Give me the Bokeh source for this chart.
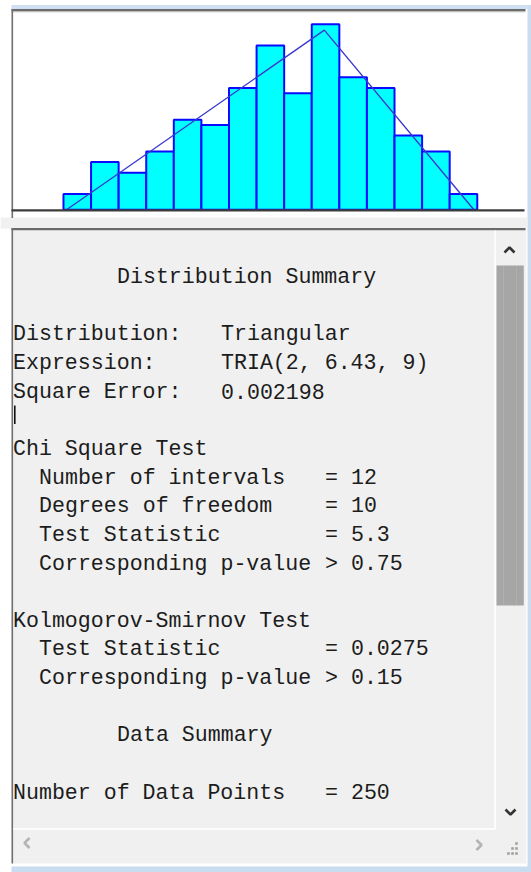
from bokeh.plotting import figure
from bokeh.models import Range1d, ColumnDataSource
from bokeh.core.properties import value
from bokeh.embed import file_html
from bokeh.resources import INLINE

# ---------------- data ----------------
bin_edges = [1.948, 2.422, 2.896, 3.370, 3.844, 4.318, 4.792, 5.266,
             5.740, 6.214, 6.688, 7.162, 7.636, 8.110, 8.584, 9.058]
bin_counts = [3, 9, 7, 11, 17, 16, 23, 31, 22, 35, 25, 23, 14, 11, 3]

tri_x = [2.0, 6.43, 9.0]          # TRIA(2, 6.43, 9)
tri_y = [0.0, 33.9, 0.0]          # fitted curve, expected count per bin

text_rows = [0, 2, 2, 3, 3, 4, 4, 6, 7, 7, 8, 8, 9, 9, 10, 10,
             12, 13, 13, 14, 14, 16, 18, 18]
text_cols = [8, 0, 16, 0, 16, 0, 16, 0, 2, 24, 2, 24, 2, 24, 2, 24,
             0, 2, 24, 2, 24, 8, 0, 24]
text_items = ["Distribution Summary",
              "Distribution:", "Triangular",
              "Expression:", "TRIA(2, 6.43, 9)",
              "Square Error:", "0.002198",
              "Chi Square Test",
              "Number of intervals", "= 12",
              "Degrees of freedom", "= 10",
              "Test Statistic", "= 5.3",
              "Corresponding p-value", "> 0.75",
              "Kolmogorov-Smirnov Test",
              "Test Statistic", "= 0.0275",
              "Corresponding p-value", "> 0.15",
              "Data Summary",
              "Number of Data Points", "= 250"]

# ---------------- layout constants (page pixels) ----------------
W, H = 531, 872
X0, Y0 = 0, 0
HX0, HPX = 66.0, 58.2         # page x of value 2, px per unit
BASE, PPC = 209.3, 5.3        # page y of count 0, px per count
CHAR_W = 13.0
TXT_X0 = 12.5
LINE0, LINE_H = 276.5, 28.65

p = figure(width=W, height=H, x_range=Range1d(X0, X0 + W), y_range=Range1d(Y0 + H, Y0),
           output_backend="svg", toolbar_location=None, min_border=0,
           x_axis_location=None, y_axis_location=None)
p.grid.visible = False
p.outline_line_color = None
p.background_fill_color = "white"
p.border_fill_color = "white"

p.extra_x_ranges = {"hx": Range1d(2 + (X0 - HX0) / HPX, 2 + (X0 + W - HX0) / HPX)}
p.extra_y_ranges = {"hy": Range1d((BASE - (Y0 + H)) / PPC, (BASE - Y0) / PPC)}

def box(l, r, t, b, c):
    p.quad(left=[l], right=[r], top=[t], bottom=[b], fill_color=c, line_color=None)

# ---------- window frame ----------
box(11, 531, 4.5, 8.6, "#cfe0f3")             # top light-blue band
box(527, 531, 4.5, 872, "#cadcf0")            # right light-blue band
box(11, 531, 866, 872, "#cadcf0")             # bottom light-blue band

# ---------- chrome: histogram panel ----------
box(0, 527, 217, 228, "#f0f0f0")              # strip between panels
box(11, 525, 8.6, 10.8, "#6b6b6b")            # top border
box(11, 525, 10.8, 11.8, "#b4b4b4")
box(11, 12.6, 8.6, 217.5, "#707070")          # left border

# ---------- histogram ----------
src = ColumnDataSource(dict(left=bin_edges[:-1], right=bin_edges[1:], top=bin_counts,
                            bottom=[0] * len(bin_counts)))
p.quad(left="left", right="right", top="top", bottom="bottom", source=src,
       x_range_name="hx", y_range_name="hy",
       fill_color="#00ffff", line_color="#0a0aff", line_width=2)
p.line(tri_x, tri_y, x_range_name="hx", y_range_name="hy",
       line_color="#3a3ad0", line_width=1.4)
box(11, 524, BASE - 0.6, BASE + 1.6, "#3c3c3c")   # axis line

# ---------- chrome: text panel ----------
box(11, 526, 228, 863, "#f0f0f0")
box(11, 525, 227.6, 229.8, "#6b6b6b")         # top border
box(11, 12.6, 227.6, 863, "#707070")          # left border
p.line([494.5, 494.5, 12.6], [230, 828.5, 828.5], line_color="white", line_width=1.5)
p.line([526, 526], [230, 863], line_color="#fafafa", line_width=1.2)
box(496, 523.3, 265, 605, "#a6a6a6")          # scrollbar thumb
p.line([503, 503], [266, 604], line_color="#b0b0b0", line_width=1)
p.line([516, 516], [266, 604], line_color="#b0b0b0", line_width=1)

# chevrons
p.line([504, 509, 514], [252, 247, 252], line_color="#333333", line_width=2.6)
p.line([505, 510, 515], [809, 814, 809], line_color="#333333", line_width=2.6)
p.line([29, 24, 29], [837.5, 842.5, 847.5], line_color="#b4b4b4", line_width=2.6)
p.line([476, 481, 476], [839.5, 844.5, 849.5], line_color="#b4b4b4", line_width=2.6)
p.scatter([516, 512, 516, 508, 512, 516], [843, 848, 848, 853, 853, 853], marker="square",
          size=2.6, fill_color="#a0a0a0", line_color=None)

# text cursor
p.line([14.3, 14.3], [405, 423.5], line_color="#111111", line_width=1.6)

# ---------- text ----------
tsrc = ColumnDataSource(dict(
    x=[TXT_X0 + c * CHAR_W for c in text_cols],
    y=[LINE0 + r * LINE_H for r in text_rows],
    text=text_items))
p.text(x="x", y="y", text="text", source=tsrc, text_font=value("Liberation Mono"),
       text_font_size="21.6px", text_color="#1c1c1c", text_baseline="alphabetic",
       text_align="left")

open("out.html", "w").write(file_html(p, INLINE))
